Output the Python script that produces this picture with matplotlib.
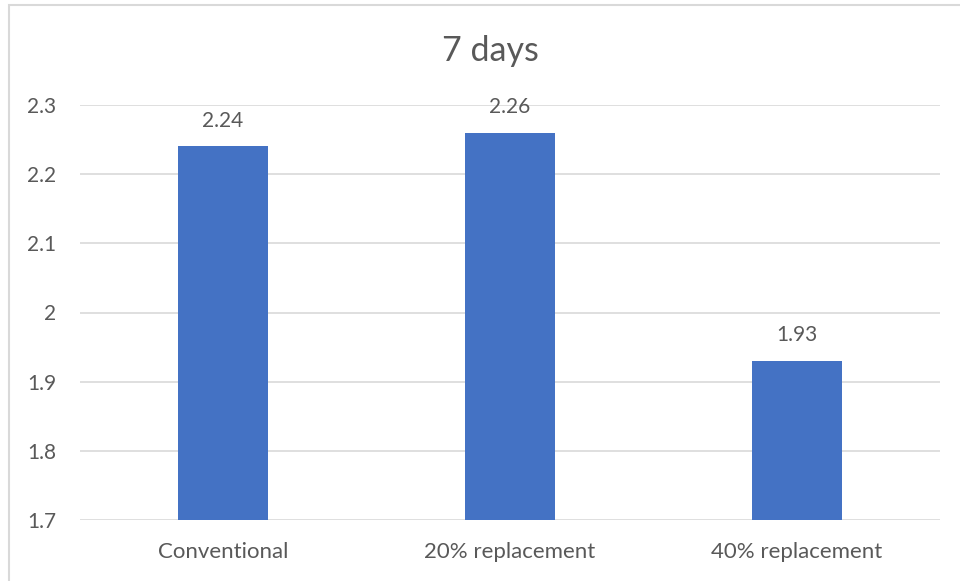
import matplotlib
matplotlib.use("Agg")
import matplotlib.pyplot as plt
from matplotlib.patches import Rectangle

categories = ["Conventional", "20% replacement", "40% replacement"]
values = [2.24, 2.26, 1.93]
yticks = [1.7, 1.8, 1.9, 2.0, 2.1, 2.2, 2.3]
ytick_labels = ["1.7", "1.8", "1.9", "2", "2.1", "2.2", "2.3"]
title = "7 days"

text_color = "#595959"
grid_color = "#D9D9D9"
bar_color = "#4472C4"

plt.rcParams["font.family"] = ["Lato", "DejaVu Sans"]

fig = plt.figure(figsize=(9.6, 5.81), dpi=100)
fig.patch.set_facecolor("white")

# chart-area frame
fig.patches.append(Rectangle((9 / 960, -0.02), 1.05, 1 - 5 / 581 + 0.02,
                             transform=fig.transFigure, fill=False,
                             edgecolor=grid_color, linewidth=1.5))

ax = fig.add_axes([79.5 / 960, 1 - 520 / 581, 861 / 960, 415 / 581])
x = list(range(len(categories)))
ax.bar(x, values, width=0.314, color=bar_color, zorder=3)

ax.set_xlim(-0.5, len(categories) - 0.5)
ax.set_ylim(1.7, 2.3)
ax.set_yticks(yticks)
ax.set_yticklabels(ytick_labels)
ax.set_xticks(x)
ax.set_xticklabels(categories)

ax.grid(axis="y", color=grid_color, linewidth=1.2, zorder=0)
for s in ax.spines.values():
    s.set_visible(False)
ax.tick_params(axis="both", length=0, labelcolor=text_color)
ax.tick_params(axis="y", pad=16.5, labelsize=15)
ax.tick_params(axis="x", pad=15.5, labelsize=16)

for xi, v in zip(x, values):
    ax.annotate(f"{v:.2f}", (xi, v), xytext=(0, 18.5), textcoords="offset points",
                ha="center", va="center", fontsize=15, color=text_color)

fig.text(490 / 960, 1 - 51 / 581, title, ha="center", va="center",
         fontsize=24.5, color=text_color)

fig.savefig("out.png", dpi=100, facecolor="white")
